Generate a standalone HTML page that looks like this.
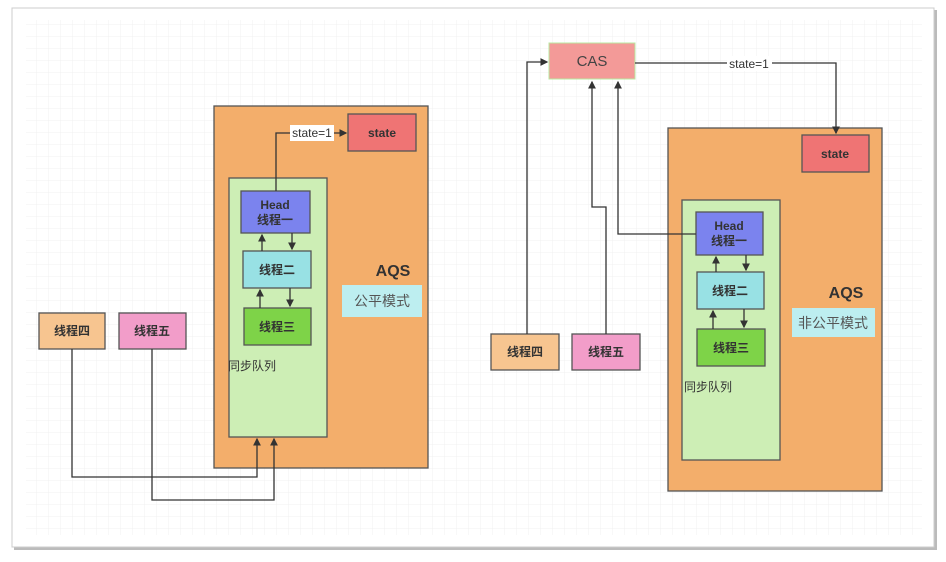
<!DOCTYPE html>
<html><head><meta charset="utf-8"><style>
html,body{margin:0;padding:0;background:#fff;}
svg{display:block;font-family:"Liberation Sans","Noto Sans CJK SC",sans-serif;}
</style></head><body>
<svg width="946" height="562" viewBox="0 0 946 562" xmlns="http://www.w3.org/2000/svg">
<defs>
<pattern id="g" width="12" height="12" patternUnits="userSpaceOnUse"><path d="M12 0H0V12" fill="none" stroke="#f0f0f0" stroke-width="1"/></pattern>
<marker id="a" markerWidth="6" markerHeight="6" refX="5" refY="3" orient="auto"><path d="M0,0L6,3L0,6z" fill="#333"/></marker>
</defs>
<rect x="14" y="10" width="923" height="540" fill="#bbb"/>
<rect x="12" y="8" width="922" height="539" fill="#fff" stroke="#ccc"/>
<rect x="26" y="20" width="896" height="515" fill="url(#g)"/>
<g stroke="#555" stroke-width="1.3">
<rect x="214" y="106" width="214" height="362" fill="#f3ae6b"/>
<rect x="229" y="178" width="98" height="259" fill="#cdeeb5"/>
<rect x="241" y="191" width="69" height="42" fill="#7b83ee"/>
<rect x="243" y="251" width="68" height="37" fill="#98e1e4"/>
<rect x="244" y="308" width="67" height="37" fill="#7ed348"/>
<rect x="348" y="114" width="68" height="37" fill="#ef7474"/>
<rect x="39" y="313" width="66" height="36" fill="#f7c590"/>
<rect x="119" y="313" width="67" height="36" fill="#f29dc9"/>
<rect x="668" y="128" width="214" height="363" fill="#f3ae6b"/>
<rect x="682" y="200" width="98" height="260" fill="#cdeeb5"/>
<rect x="696" y="212" width="67" height="43" fill="#7b83ee"/>
<rect x="697" y="272" width="67" height="37" fill="#98e1e4"/>
<rect x="697" y="329" width="68" height="37" fill="#7ed348"/>
<rect x="802" y="135" width="67" height="37" fill="#ef7474"/>
<rect x="491" y="334" width="68" height="36" fill="#f7c590"/>
<rect x="572" y="334" width="68" height="36" fill="#f29dc9"/>
</g>
<rect x="549" y="43" width="86" height="36" fill="#f39a98" stroke="#b8e8a0"/>
<rect x="342" y="285" width="80" height="32" fill="#bdeef0"/>
<rect x="792" y="308" width="83" height="29" fill="#bdeef0"/>
<g fill="none" stroke="#333" stroke-width="1.3">
<path d="M276 191V133H346" marker-end="url(#a)"/>
<path d="M262 251V235" marker-end="url(#a)"/><path d="M292 233V249" marker-end="url(#a)"/>
<path d="M260 308V290" marker-end="url(#a)"/><path d="M290 288V306" marker-end="url(#a)"/>
<path d="M72 349V477H257V439" marker-end="url(#a)"/>
<path d="M152 349V500H274V439" marker-end="url(#a)"/>
<path d="M635 63H836V133" marker-end="url(#a)"/>
<path d="M527 334V62H547" marker-end="url(#a)"/>
<path d="M606 334V207H592V82" marker-end="url(#a)"/>
<path d="M696 234H618V82" marker-end="url(#a)"/>
<path d="M716 272V257" marker-end="url(#a)"/><path d="M746 255V270" marker-end="url(#a)"/>
<path d="M713 329V311" marker-end="url(#a)"/><path d="M744 309V327" marker-end="url(#a)"/>
</g>
<rect x="290" y="125" width="44" height="16" fill="#fff"/>
<rect x="727" y="56" width="45" height="15" fill="#fff"/>
<g font-size="12" fill="#333" text-anchor="middle">
<text x="312" y="137">state=1</text>
<text x="749" y="68">state=1</text>
<text x="592" y="66" font-size="15" fill="#444">CAS</text>
<g font-weight="bold">
<text x="382" y="137">state</text><text x="835" y="158">state</text>
<text x="275" y="209">Head</text><text x="275" y="224">线程一</text>
<text x="729" y="230">Head</text><text x="729" y="245">线程一</text>
<text x="277" y="274">线程二</text><text x="730" y="295">线程二</text>
<text x="277" y="331">线程三</text><text x="731" y="352">线程三</text>
<text x="72" y="335">线程四</text><text x="152" y="335">线程五</text>
<text x="525" y="356">线程四</text><text x="606" y="356">线程五</text>
<text x="393" y="276" font-size="16">AQS</text><text x="846" y="298" font-size="16">AQS</text>
</g>
<text x="382" y="306" font-size="14" fill="#555">公平模式</text>
<text x="833" y="328" font-size="14" fill="#555">非公平模式</text>
<text x="252" y="370">同步队列</text>
<text x="708" y="391">同步队列</text>
</g>
</svg>
</body></html>
